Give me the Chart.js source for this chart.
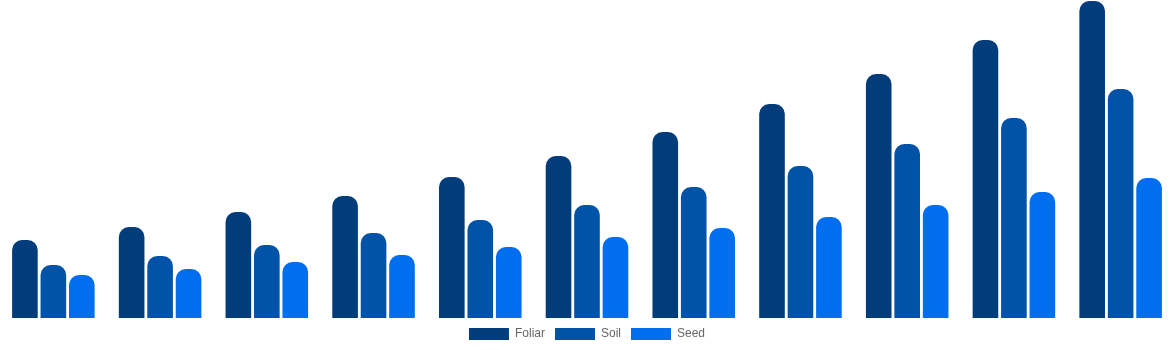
<!DOCTYPE html>
<html>
<head>
<meta charset="utf-8">
<script src="https://cdn.jsdelivr.net/npm/chart.js@4/dist/chart.umd.min.js"></script>
<style>
  html, body { margin: 0; padding: 0; background: #fff; }
  #wrap { width: 1174px; height: 350px; }
</style>
</head>
<body>
<div id="wrap"><canvas id="appChart"></canvas></div>
<script>
const periods = ['2015', '2016', '2017', '2018', '2019', '2020', '2021', '2022', '2023', '2024', '2025'];
const foliar = [7.8, 9.1, 10.6, 12.2, 14.1, 16.2, 18.6, 21.4, 24.4, 27.8, 31.7];
const soil = [5.3, 6.2, 7.3, 8.5, 9.8, 11.3, 13.1, 15.2, 17.4, 20.0, 22.9];
const seed = [4.3, 4.9, 5.6, 6.3, 7.1, 8.1, 9.0, 10.1, 11.3, 12.6, 14.0];

function makeChart() {
  const ctx = document.getElementById('appChart').getContext('2d');
  new Chart(ctx, {
    type: 'bar',
    data: {
      labels: periods,
      datasets: [
        { label: 'Foliar', data: foliar, backgroundColor: '#023d7b', borderRadius: 10 },
        { label: 'Soil', data: soil, backgroundColor: '#0053a6', borderRadius: 10 },
        { label: 'Seed', data: seed, backgroundColor: '#006eee', borderRadius: 10 },
      ]
    },
    options: {
      responsive: true,
      maintainAspectRatio: false,
      animation: false,
      layout: { padding: 0 },
      plugins: {
        legend: { position: 'bottom' },
        tooltip: { enabled: true }
      },
      scales: {
        x: { display: false },
        y: { display: false, min: 0, max: 31.8 }
      }
    }
  });
}

window.addEventListener('DOMContentLoaded', makeChart);
</script>
</body>
</html>
